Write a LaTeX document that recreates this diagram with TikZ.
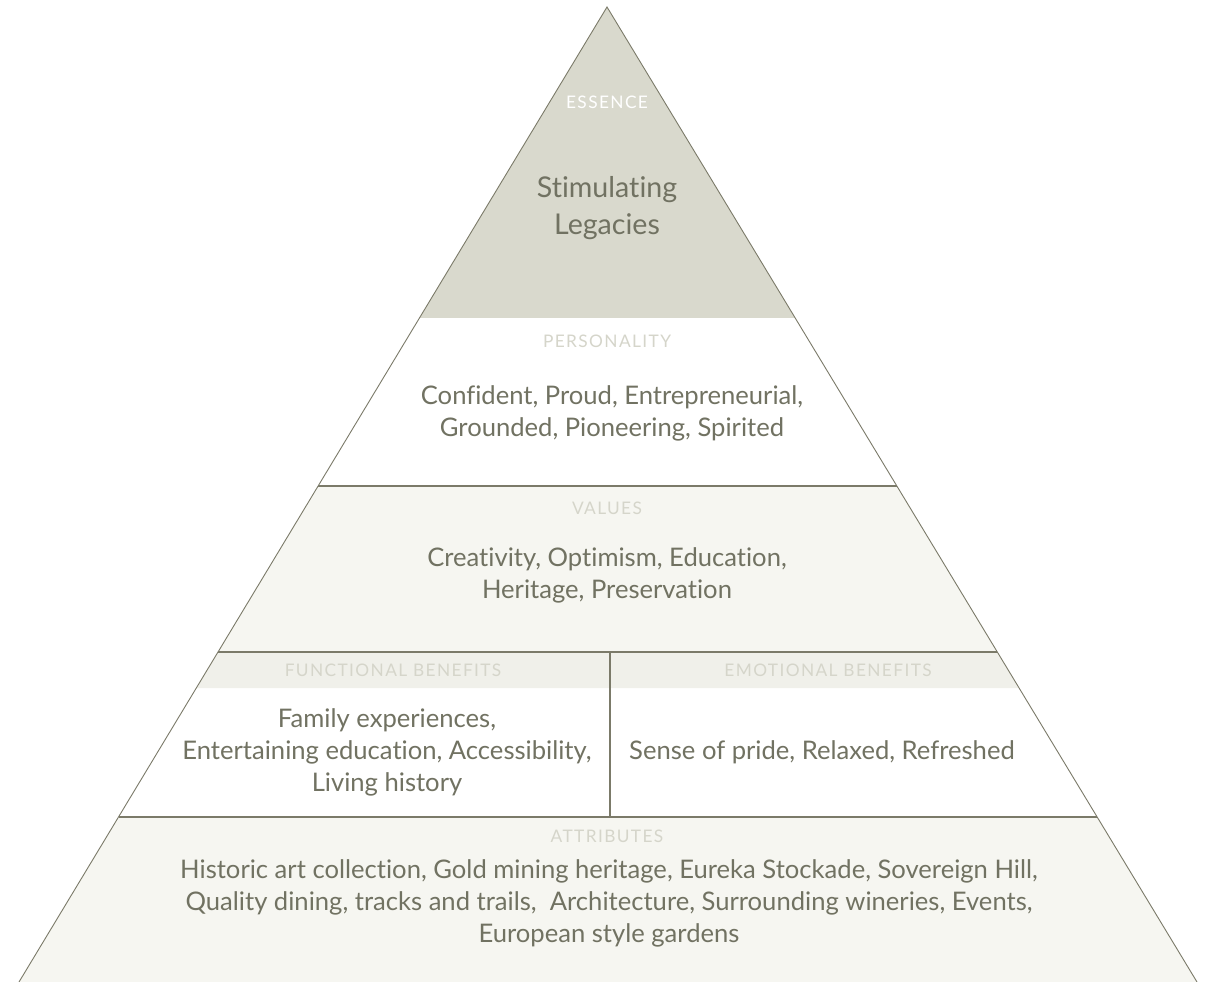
\documentclass[tikz,border=0pt]{standalone}
\usepackage{fontspec}
\setmainfont{Lato}[RawFeature=-liga]
\newfontfamily\labelfont[LetterSpace=8]{Lato}
\usetikzlibrary{calc}
\definecolor{edge}{HTML}{7B7A69}
\definecolor{txt}{HTML}{717262}
\definecolor{essfill}{HTML}{D9D9CD}
\definecolor{lightfill}{HTML}{F6F6F1}
\definecolor{headfill}{HTML}{F0F0EA}
\definecolor{lbl}{HTML}{D5D5CA}
\tikzset{
  side/.style={draw=edge, line width=0.9pt},
  divider/.style={draw=edge, line width=2.3pt},
  bodytext/.style={text=txt, align=center, font=\fontsize{25.6}{32}\selectfont, inner sep=0pt},
  bigtext/.style={text=txt, align=center, font=\fontsize{28.6}{37}\selectfont, inner sep=0pt},
  tierlabel/.style={text=lbl, font=\labelfont\fontsize{17.3}{18}\selectfont, inner sep=0pt},
}
\begin{document}
\begin{tikzpicture}[x=1pt,y=-1pt]
\useasboundingbox (0,0) rectangle (1207,982);
\fill[white] (0,0) rectangle (1207,982);
\coordinate (A) at (607,7);
\coordinate (BL) at (19,982);
\coordinate (BR) at (1197,982);
\coordinate (L318) at ($(A)!0.31897!(BL)$);
\coordinate (R318) at ($(A)!0.31897!(BR)$);
\coordinate (L486) at ($(A)!0.49128!(BL)$);
\coordinate (R486) at ($(A)!0.49128!(BR)$);
\coordinate (L652) at ($(A)!0.66154!(BL)$);
\coordinate (R652) at ($(A)!0.66154!(BR)$);
\coordinate (L688) at ($(A)!0.69846!(BL)$);
\coordinate (R688) at ($(A)!0.69846!(BR)$);
\coordinate (L817) at ($(A)!0.83077!(BL)$);
\coordinate (R817) at ($(A)!0.83077!(BR)$);
\coordinate (V1) at (610,652);
\coordinate (V2) at (610,817);
% fills
\fill[essfill] (A) -- (L318) -- (R318) -- cycle;
\fill[lightfill] (L486) -- (R486) -- (R652) -- (L652) -- cycle;
\fill[headfill] (L652) -- (R652) -- (R688) -- (L688) -- cycle;
\fill[lightfill] (L817) -- (R817) -- (BR) -- (BL) -- cycle;
% outline
\draw[side] (BL) -- (A) -- (BR);
\draw[divider] (L486) -- (R486);
\draw[divider] (L652) -- (R652);
\draw[divider] (L817) -- (R817);
\draw[divider] (V1) -- (V2);
% texts
\node[tierlabel, text=white] (essL) at (607,102) {ESSENCE};
\node[bigtext] (ess) at (607,208) {Stimulating\\Legacies};
\node[tierlabel] (perL) at (607,341) {PERSONALITY};
\node[bodytext] (per) at (612,413) {Confident, Proud, Entrepreneurial,\\Grounded, Pioneering, Spirited};
\node[tierlabel] (valL) at (607,508) {VALUES};
\node[bodytext] (val) at (607,575) {Creativity, Optimism, Education,\\Heritage, Preservation};
\node[tierlabel] (funL) at (393,670) {FUNCTIONAL BENEFITS};
\node[tierlabel] (emoL) at (828,670) {EMOTIONAL BENEFITS};
\node[bodytext] (fun) at (387,752) {Family experiences,\\Entertaining education, Accessibility,\\Living history};
\node[bodytext] (emo) at (822,752) {Sense of pride, Relaxed, Refreshed};
\node[tierlabel] (attL) at (607,836) {ATTRIBUTES};
\node[bodytext] (att) at (609,903) {Historic art collection, Gold mining heritage, Eureka Stockade, Sovereign Hill,\\Quality dining, tracks and trails,\ \ Architecture, Surrounding wineries, Events,\\European style gardens};
\end{tikzpicture}
\end{document}
